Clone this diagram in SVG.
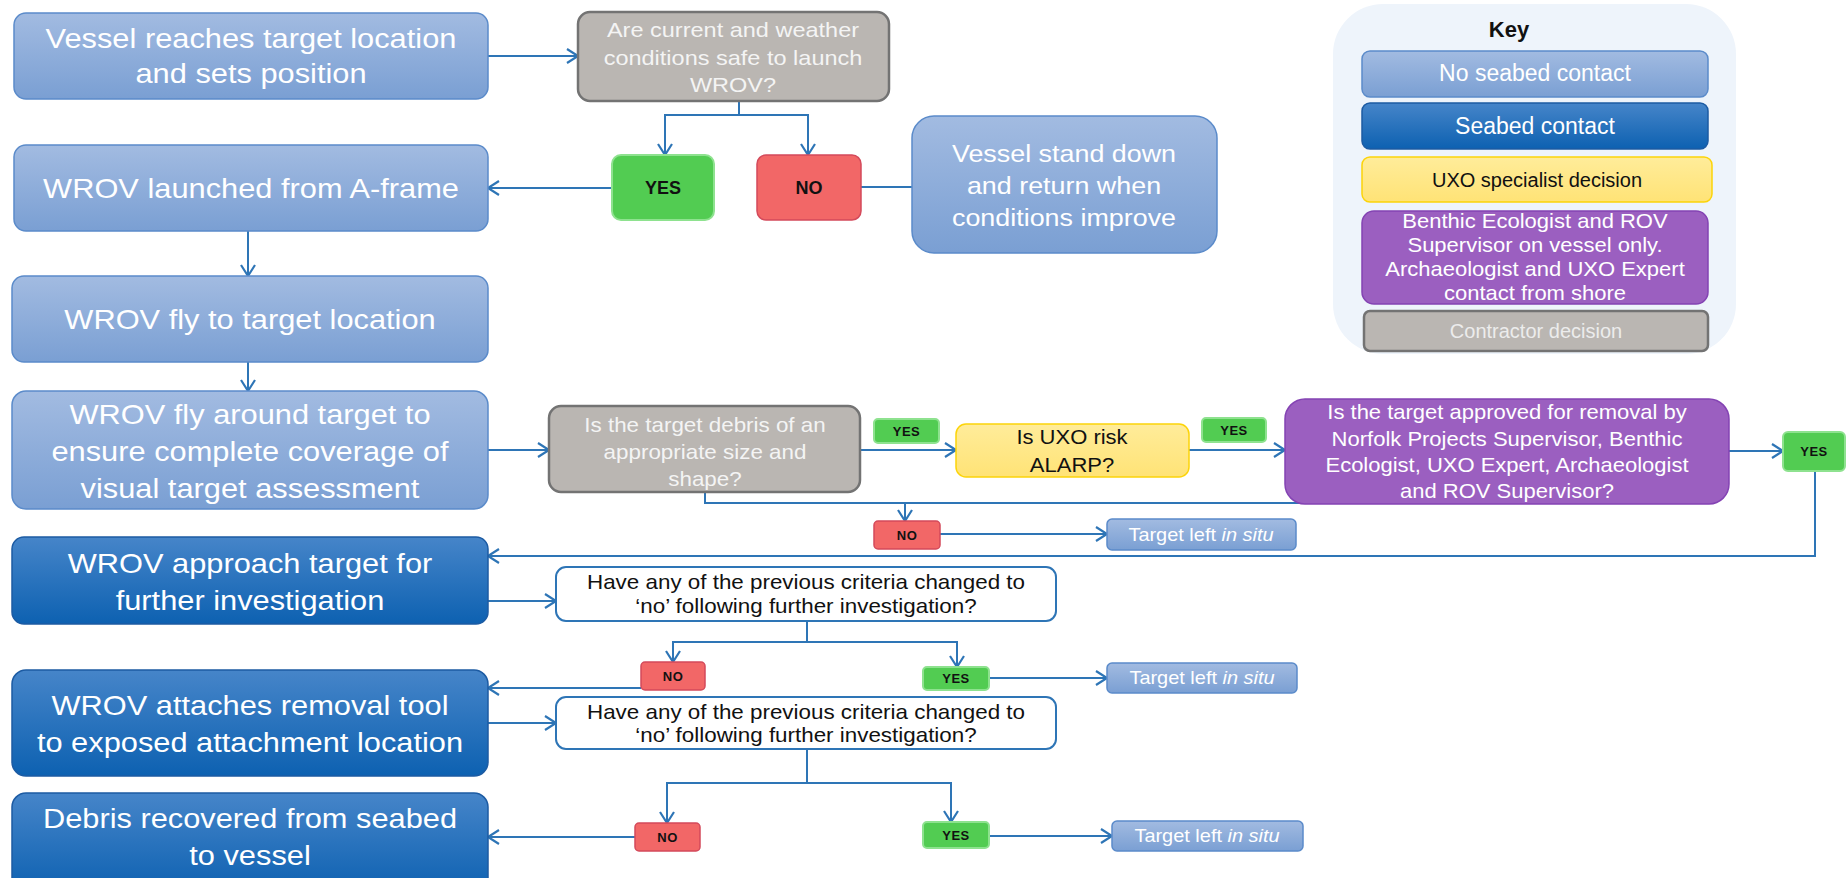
<svg xmlns="http://www.w3.org/2000/svg" width="1847" height="878" viewBox="0 0 1847 878">
<defs>
<linearGradient id="gLight" x1="0" y1="0" x2="0" y2="1"><stop offset="0" stop-color="#a2bbe1"/><stop offset="1" stop-color="#7a9fd3"/></linearGradient>
<linearGradient id="gDark" x1="0" y1="0" x2="0" y2="1"><stop offset="0" stop-color="#4685c9"/><stop offset="1" stop-color="#0d61b1"/></linearGradient>
<linearGradient id="gYel" x1="0" y1="0" x2="0" y2="1"><stop offset="0" stop-color="#ffec9a"/><stop offset="1" stop-color="#ffe376"/></linearGradient>
<marker id="ah" markerWidth="16" markerHeight="18" refX="13" refY="8" orient="auto" markerUnits="userSpaceOnUse"><path d="M2,1 L13,8 L2,15" fill="none" stroke="#2e75b6" stroke-width="2.2"/></marker>
<style>
text{font-family:"Liberation Sans",Arial,sans-serif;text-anchor:middle}
.light{fill:url(#gLight);stroke:#5b8bca;stroke-width:1.5}
.dark{fill:url(#gDark);stroke:#1c5ba3;stroke-width:1.5}
.gray{fill:#bab6b2;stroke:#737373;stroke-width:2.5}
.yes{fill:#52cc52;stroke:#8ee28f;stroke-width:2}
.no{fill:#f26767;stroke:#d44a5b;stroke-width:1.5}
.yel{fill:url(#gYel);stroke:#fcd40a;stroke-width:1.5}
.pur{fill:#9b5fc0;stroke:#8443b3;stroke-width:1.5}
.wht{fill:#ffffff;stroke:#2e75b6;stroke-width:2}
.w{fill:#ffffff}
.g{fill:#f4f4f4}
.k{fill:#111111}
.big{font-size:27.5px}
.f21{font-size:21px}
.f20{font-size:20px}
.f24{font-size:24px}
.f19{font-size:19px}
.yn{font-size:18px;font-weight:bold}
.sm{font-size:13px;font-weight:bold;letter-spacing:0.5px}
.conn path{fill:none;stroke:#2e75b6;stroke-width:2}
</style>
</defs>
<rect width="1847" height="878" fill="#ffffff"/>

<g class="conn" id="connectors">
<path d="M488,56 H578" marker-end="url(#ah)"/>
<path d="M739,101 V115 H665 V155" marker-end="url(#ah)"/>
<path d="M739,115 H808 V155" marker-end="url(#ah)"/>
<path d="M612,188 H488" marker-end="url(#ah)"/>
<path d="M861,187 H912"/>
<path d="M248,231 V276" marker-end="url(#ah)"/>
<path d="M248,362 V391" marker-end="url(#ah)"/>
<path d="M488,450 H549" marker-end="url(#ah)"/>
<path d="M860,450 H956" marker-end="url(#ah)"/>
<path d="M1189,450 H1285" marker-end="url(#ah)"/>
<path d="M1729,451 H1783" marker-end="url(#ah)"/>
<path d="M1815,471 V556 H488" marker-end="url(#ah)"/>
<path d="M705,492 V503 H1300"/>
<path d="M905,503 V521" marker-end="url(#ah)"/>
<path d="M940,534 H1107" marker-end="url(#ah)"/>
<path d="M488,601 H556" marker-end="url(#ah)"/>
<path d="M807,621 V642 H673 V662" marker-end="url(#ah)"/>
<path d="M807,642 H957 V667" marker-end="url(#ah)"/>
<path d="M641,688 H488" marker-end="url(#ah)"/>
<path d="M989,678 H1107" marker-end="url(#ah)"/>
<path d="M488,723 H556" marker-end="url(#ah)"/>
<path d="M807,749 V783 H667 V823" marker-end="url(#ah)"/>
<path d="M807,783 H951 V822" marker-end="url(#ah)"/>
<path d="M635,837 H488" marker-end="url(#ah)"/>
<path d="M989,836 H1112" marker-end="url(#ah)"/>
</g>

<g id="n-vessel-reaches"><rect class="light" x="14" y="13" width="474" height="86" rx="12"/>
<text class="big w" transform="translate(251 0) scale(1.12 1)"><tspan x="0" y="48">Vessel reaches target location</tspan><tspan x="0" y="83">and sets position</tspan></text></g>

<g id="n-launched"><rect class="light" x="14" y="145" width="474" height="86" rx="12"/>
<text class="big w" transform="translate(251 0) scale(1.12 1)"><tspan x="0" y="198">WROV launched from A-frame</tspan></text></g>

<g id="n-fly-to"><rect class="light" x="12" y="276" width="476" height="86" rx="12"/>
<text class="big w" transform="translate(250 0) scale(1.12 1)"><tspan x="0" y="329">WROV fly to target location</tspan></text></g>

<g id="n-fly-around"><rect class="light" x="12" y="391" width="476" height="118" rx="14"/>
<text class="big w" transform="translate(250 0) scale(1.12 1)"><tspan x="0" y="424">WROV fly around target to</tspan><tspan x="0" y="461">ensure complete coverage of</tspan><tspan x="0" y="498">visual target assessment</tspan></text></g>

<g id="n-approach"><rect class="dark" x="12" y="537" width="476" height="87" rx="12"/>
<text class="big w" transform="translate(250 0) scale(1.12 1)"><tspan x="0" y="573">WROV approach target for</tspan><tspan x="0" y="610">further investigation</tspan></text></g>

<g id="n-attaches"><rect class="dark" x="12" y="670" width="476" height="106" rx="14"/>
<text class="big w" transform="translate(250 0) scale(1.12 1)"><tspan x="0" y="715">WROV attaches removal tool</tspan><tspan x="0" y="752">to exposed attachment location</tspan></text></g>

<g id="n-recovered"><rect class="dark" x="12" y="793" width="476" height="100" rx="14"/>
<text class="big w" transform="translate(250 0) scale(1.12 1)"><tspan x="0" y="828">Debris recovered from seabed</tspan><tspan x="0" y="865">to vessel</tspan></text></g>

<g id="n-conditions"><rect class="gray" x="578" y="12" width="311" height="89" rx="12"/>
<text class="f21 g" transform="translate(733 0) scale(1.12 1)"><tspan x="0" y="37">Are current and weather</tspan><tspan x="0" y="65">conditions safe to launch</tspan><tspan x="0" y="92">WROV?</tspan></text></g>

<g id="n-yes1"><rect class="yes" x="612" y="155" width="102" height="65" rx="9"/>
<text class="yn k" x="663" y="194">YES</text></g>

<g id="n-no1"><rect class="no" x="757" y="155" width="104" height="65" rx="9"/>
<text class="yn k" x="809" y="194">NO</text></g>

<g id="n-stand-down"><rect class="light" x="912" y="116" width="305" height="137" rx="22"/>
<text class="f24 w" transform="translate(1064 0) scale(1.12 1)"><tspan x="0" y="162">Vessel stand down</tspan><tspan x="0" y="194">and return when</tspan><tspan x="0" y="226">conditions improve</tspan></text></g>

<g id="n-size-shape"><rect class="gray" x="549" y="406" width="311" height="86" rx="12"/>
<text class="f20 g" transform="translate(705 0) scale(1.12 1)"><tspan x="0" y="432">Is the target debris of an</tspan><tspan x="0" y="459">appropriate size and</tspan><tspan x="0" y="486">shape?</tspan></text></g>

<g id="n-yes2"><rect class="yes" x="874" y="419" width="65" height="24" rx="4"/>
<text class="sm k" x="906.5" y="436">YES</text></g>

<g id="n-uxo"><rect class="yel" x="956" y="424" width="233" height="53" rx="10"/>
<text class="f20 k" transform="translate(1072 0) scale(1.1 1)"><tspan x="0" y="444">Is UXO risk</tspan><tspan x="0" y="472">ALARP?</tspan></text></g>

<g id="n-yes3"><rect class="yes" x="1202" y="418" width="64" height="24" rx="4"/>
<text class="sm k" x="1234" y="435">YES</text></g>

<g id="n-approved"><rect class="pur" x="1285" y="399" width="444" height="105" rx="20"/>
<text class="f20 w" transform="translate(1507 0) scale(1.1 1)"><tspan x="0" y="419">Is the target approved for removal by</tspan><tspan x="0" y="446">Norfolk Projects Supervisor, Benthic</tspan><tspan x="0" y="472">Ecologist, UXO Expert, Archaeologist</tspan><tspan x="0" y="498">and ROV Supervisor?</tspan></text></g>

<g id="n-yes4"><rect class="yes" x="1783" y="432" width="62" height="39" rx="5"/>
<text class="sm k" x="1814" y="456">YES</text></g>

<g id="n-no2"><rect class="no" x="874" y="521" width="66" height="28" rx="4"/>
<text class="sm k" x="907" y="540">NO</text></g>

<g id="n-insitu1"><rect class="light" x="1107" y="519" width="189" height="31" rx="5"/>
<text class="f19 w" transform="translate(1201 0) scale(1.05 1)"><tspan x="0" y="541">Target left <tspan font-style="italic">in situ</tspan></tspan></text></g>

<g id="n-changed1"><rect class="wht" x="556" y="567" width="500" height="54" rx="10"/>
<text class="f20 k" transform="translate(806 0) scale(1.12 1)"><tspan x="0" y="589">Have any of the previous criteria changed to</tspan><tspan x="0" y="613">‘no’ following further investigation?</tspan></text></g>

<g id="n-no3"><rect class="no" x="641" y="662" width="64" height="28" rx="4"/>
<text class="sm k" x="673" y="681">NO</text></g>

<g id="n-yes5"><rect class="yes" x="923" y="667" width="66" height="23" rx="4"/>
<text class="sm k" x="956" y="683">YES</text></g>

<g id="n-insitu2"><rect class="light" x="1107" y="663" width="190" height="30" rx="5"/>
<text class="f19 w" transform="translate(1202 0) scale(1.05 1)"><tspan x="0" y="684">Target left <tspan font-style="italic">in situ</tspan></tspan></text></g>

<g id="n-changed2"><rect class="wht" x="556" y="697" width="500" height="52" rx="10"/>
<text class="f20 k" transform="translate(806 0) scale(1.12 1)"><tspan x="0" y="719">Have any of the previous criteria changed to</tspan><tspan x="0" y="742">‘no’ following further investigation?</tspan></text></g>

<g id="n-no4"><rect class="no" x="635" y="823" width="65" height="28" rx="4"/>
<text class="sm k" x="667.5" y="842">NO</text></g>

<g id="n-yes6"><rect class="yes" x="923" y="822" width="66" height="26" rx="4"/>
<text class="sm k" x="956" y="840">YES</text></g>

<g id="n-insitu3"><rect class="light" x="1112" y="821" width="191" height="30" rx="5"/>
<text class="f19 w" transform="translate(1207 0) scale(1.05 1)"><tspan x="0" y="842">Target left <tspan font-style="italic">in situ</tspan></tspan></text></g>

<g id="key">
<rect x="1333" y="4" width="403" height="350" rx="50" fill="#eef4fb"/>
<text x="1509" y="37" font-size="22" font-weight="bold" fill="#111">Key</text>
<g id="key-no-contact"><rect class="light" x="1362" y="51" width="346" height="46" rx="8"/><text class="w" x="1535" y="81" font-size="23">No seabed contact</text></g>
<g id="key-contact"><rect class="dark" x="1362" y="103" width="346" height="46" rx="8"/><text class="w" x="1535" y="134" font-size="23">Seabed contact</text></g>
<g id="key-uxo"><rect class="yel" x="1362" y="157" width="350" height="45" rx="8"/><text class="k" x="1537" y="187" font-size="20">UXO specialist decision</text></g>
<g id="key-benthic"><rect class="pur" x="1362" y="211" width="346" height="93" rx="12"/><text class="w" font-size="20" transform="translate(1535 0) scale(1.1 1)"><tspan x="0" y="228">Benthic Ecologist and ROV</tspan><tspan x="0" y="252">Supervisor on vessel only.</tspan><tspan x="0" y="276">Archaeologist and UXO Expert</tspan><tspan x="0" y="300">contact from shore</tspan></text></g>
<g id="key-contractor"><rect class="gray" x="1364" y="311" width="344" height="40" rx="6"/><text x="1536" y="338" font-size="20" fill="#ececec">Contractor decision</text></g>
</g>
</svg>
